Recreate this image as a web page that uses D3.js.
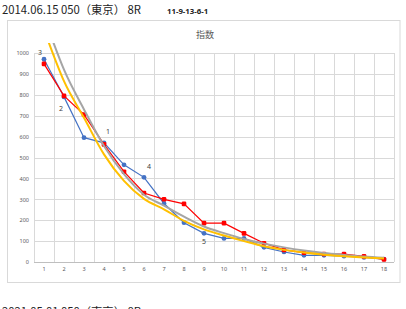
<!DOCTYPE html>
<html><head><meta charset="utf-8">
<script src="https://cdn.jsdelivr.net/npm/d3@7"></script>
<style>body{margin:0;background:#fff;overflow:hidden}svg{display:block}</style>
</head><body>
<script>
const categories = d3.range(1, 19);
const blueValues = [970, 790, 595, 570, 465, 405, 280, 188, 137, 113, 113, 70, 48, 32, 32, 28, 22, 14];
const redValues  = [948, 795, 705, 563, 432, 330, 300, 278, 186, 186, 137, 90, 58, 45, 38, 38, 27, 12];
const yellowTrend = [[1.2,1060],[2,865],[3,690],[4,515],[5,388],[6,302],[7,252],[8,197],[9,156],[10,127],[11,100],[12,75],[13,58],[14,45],[15,35],[16,28],[17,22],[18,17]];
const grayTrend   = [[1.45,1055],[2,920],[3,730],[4,555],[5,420],[6,322],[7,270],[8,217],[9,170],[10,138],[11,110],[12,88],[13,70],[14,55],[15,43],[16,34],[17,26],[18,20]];
const yTicks = d3.range(0, 1001, 100);
const pointLabels = [{i:1,t:"3"},{i:2,t:"2"},{i:4,t:"1"},{i:6,t:"4"},{i:9,t:"5"}];
const labelOffsets = {1:[-4,-7],2:[-3,12],4:[4,-11],6:[5,-11],9:[0,8]};

const W = 406, H = 309;
const svg = d3.select("body").append("svg").attr("width", W).attr("height", H);
const font = "'Noto Sans CJK JP','Noto Sans',sans-serif";

svg.append("text").attr("x", 2).attr("y", 14).attr("font-family", font).attr("font-size", 11.3).attr("fill", "#222")
  .text("2014.06.15 050（東京） 8R");
svg.append("text").attr("x", 167).attr("y", 14).attr("font-family", "'Noto Sans',sans-serif").attr("font-size", 7.8).attr("font-weight", "bold").attr("fill", "#222")
  .text("11-9-13-6-1");
svg.append("text").attr("x", 2).attr("y", 316).attr("font-family", font).attr("font-size", 11.3).attr("fill", "#222")
  .text("2021.05.01 050（東京） 8R");

svg.append("rect").attr("x", 7.5).attr("y", 20.5).attr("width", 392.5).attr("height", 262).attr("fill", "#fff").attr("stroke", "#d9d9d9");

svg.append("text").attr("x", 205).attr("y", 38).attr("text-anchor", "middle").attr("font-family", font).attr("font-size", 9).attr("fill", "#595959").text("指数");

const x = d3.scaleBand().domain(categories).range([34, 394]).padding(0);
const xl = d3.scaleLinear().domain([0.5, 18.5]).range([34, 394]);
const y = d3.scaleLinear().domain([0, 1000]).range([262, 53]);

const grid = svg.append("g");
grid.selectAll("line.h").data(yTicks).join("line")
  .attr("x1", 34).attr("x2", 394).attr("y1", d => Math.round(y(d)) + 0.5).attr("y2", d => Math.round(y(d)) + 0.5)
  .attr("stroke", d => d === 0 ? "#bfbfbf" : "#d9d9d9").attr("stroke-width", 1);
grid.selectAll("line.v").data(d3.range(0, 19)).join("line")
  .attr("x1", d => 34 + d * x.bandwidth() + 0.5).attr("x2", d => 34 + d * x.bandwidth() + 0.5)
  .attr("y1", y(1000)).attr("y2", y(0)).attr("stroke", "#d9d9d9");

svg.append("g").attr("transform", "translate(29,0)")
  .call(d3.axisLeft(y).tickValues(yTicks).tickFormat(d3.format("d")).tickSize(0).tickPadding(0))
  .call(g => g.select(".domain").remove())
  .call(g => g.selectAll("text").attr("font-family", "'Noto Sans',sans-serif").attr("font-size", 5.5).attr("fill", "#595959"));

svg.append("g").attr("transform", "translate(0,267)")
  .call(d3.axisBottom(x).tickSize(0).tickPadding(0))
  .call(g => g.select(".domain").remove())
  .call(g => g.selectAll("text").attr("font-family", "'Noto Sans',sans-serif").attr("font-size", 5.5).attr("fill", "#595959"));

svg.append("clipPath").attr("id", "clip").append("rect").attr("x", 30).attr("y", 43).attr("width", 370).attr("height", 230);
const plot = svg.append("g").attr("clip-path", "url(#clip)");

const line = d3.line().x((d, i) => xl(categories[i])).y(d => y(d));
plot.append("path").datum(blueValues).attr("d", line).attr("fill", "none").attr("stroke", "#4472C4").attr("stroke-width", 1.2);
plot.selectAll("circle.b").data(blueValues).join("circle").attr("cx", (d, i) => xl(categories[i])).attr("cy", d => y(d)).attr("r", 2.4).attr("fill", "#4472C4");
plot.append("path").datum(redValues).attr("d", line).attr("fill", "none").attr("stroke", "#FF0000").attr("stroke-width", 1.2);
plot.selectAll("rect.r").data(redValues).join("rect").attr("x", (d, i) => xl(categories[i]) - 2.3).attr("y", d => y(d) - 2.3).attr("width", 4.6).attr("height", 4.6).attr("rx", 1.2).attr("fill", "#FF0000");

const tline = d3.line().x(d => xl(d[0])).y(d => y(d[1])).curve(d3.curveMonotoneX);
plot.append("path").datum(grayTrend).attr("d", tline).attr("fill", "none").attr("stroke", "#A5A5A5").attr("stroke-width", 2);
plot.append("path").datum(yellowTrend).attr("d", tline).attr("fill", "none").attr("stroke", "#FFC000").attr("stroke-width", 2);

svg.selectAll("text.lbl").data(pointLabels).join("text")
  .attr("x", d => xl(d.i) + labelOffsets[d.i][0]).attr("y", d => y(blueValues[d.i - 1]) + labelOffsets[d.i][1])
  .attr("dy", "0.35em").attr("text-anchor", "middle").attr("font-family", "'Noto Sans',sans-serif").attr("font-size", 7).attr("fill", "#404040")
  .text(d => d.t);
</script>
</body></html>
